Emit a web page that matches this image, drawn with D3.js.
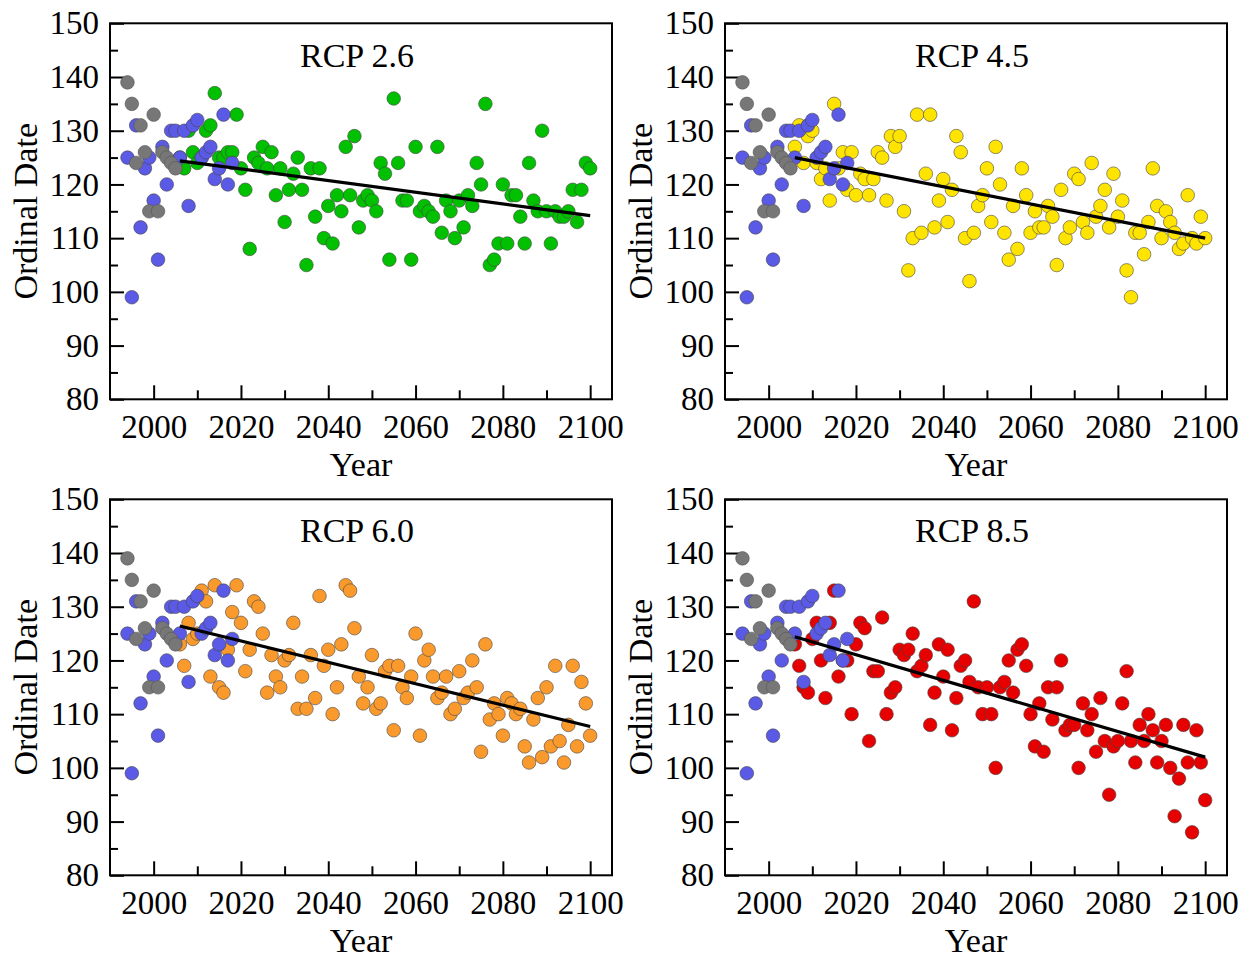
<!DOCTYPE html>
<html>
<head>
<meta charset="utf-8">
<script src="https://cdn.jsdelivr.net/npm/d3@7"></script>
<style>
  html, body { margin: 0; padding: 0; background: #fff; }
  svg { display: block; }
  text { font-family: "Liberation Serif", "Times New Roman", serif; fill: #000; }
</style>
</head>
<body>
<svg id="chart" width="1246" height="958"></svg>
<script>
// ---------------- DATA ----------------
const grayYears  = [1994, 1995, 1996, 1997, 1998, 1999, 2000, 2001, 2002, 2003, 2004, 2005];
const grayValues = [139, 135, 124, 131, 126, 115, 133, 115, 126, 125, 124, 123];

const blueYears  = [1994, 1995, 1996, 1997, 1998, 1999, 2000, 2001, 2002, 2003, 2004, 2005, 2006,
                    2007, 2008, 2009, 2010, 2011, 2012, 2013, 2014, 2015, 2016, 2017, 2018];
const blueValues = [125, 99, 131, 112, 123, 125, 117, 106, 127, 120, 130, 130, 125,
                    130, 116, 131, 132, 125, 126, 127, 121, 123, 133, 120, 124];

const scenarioYears = d3.range(2006, 2101);

const rcp26 = [125, 123, 130, 126, 124, 125, 130, 131, 137, 125, 125, 126, 126, 133, 123, 119, 108, 125, 124, 127,
               123, 126, 118, 123, 113, 119, 122, 125, 119, 105, 123, 114, 123, 110, 116, 109, 118, 115, 127, 118,
               129, 112, 117, 118, 117, 115, 124, 122, 106, 136, 124, 117, 117, 106, 127, 115, 116, 115, 114, 127,
               111, 117, 115, 110, 117, 112, 118, 116, 124, 120, 135, 105, 106, 109, 120, 109, 118, 118, 114, 109,
               124, 117, 115, 130, 115, 109, 115, 114, 114, 115, 119, 113, 119, 124, 123];

const rcp45 = [127, 131, 124, 129, 130, 124, 121, 123, 117, 135, 123, 126, 119, 126, 118, 122, 121, 118, 121, 126,
               125, 117, 129, 127, 129, 115, 104, 110, 133, 111, 122, 133, 112, 117, 121, 113, 119, 129, 126, 110,
               102, 111, 116, 118, 123, 113, 127, 120, 111, 106, 116, 108, 123, 118, 111, 115, 112, 112, 116, 114,
               105, 119, 110, 112, 122, 121, 113, 111, 124, 114, 116, 119, 112, 122, 114, 117, 104, 99, 111, 111,
               107, 113, 123, 116, 110, 115, 113, 111, 108, 109, 118, 110, 109, 114, 110];

const rcp60 = [123, 119, 127, 124, 125, 133, 131, 117, 134, 115, 114, 122, 129, 134, 127, 118, 122, 131, 130, 125,
               114, 121, 117, 115, 120, 121, 127, 111, 117, 111, 121, 113, 132, 119, 122, 110, 115, 123, 134, 133,
               126, 117, 112, 115, 121, 111, 112, 118, 119, 107, 119, 115, 113, 117, 125, 106, 120, 122, 117, 113,
               114, 117, 110, 111, 118, 113, 114, 120, 115, 103, 123, 109, 112, 110, 106, 113, 112, 110, 111, 104,
               101, 109, 113, 102, 115, 104, 119, 105, 101, 108, 119, 104, 116, 112, 106];

const rcp85 = [123, 119, 115, 114, 124, 127, 120, 113, 127, 133, 117, 120, 120, 110, 123, 127, 126, 105, 118, 118,
               128, 110, 114, 115, 122, 121, 122, 125, 118, 119, 121, 108, 114, 123, 117, 122, 107, 113, 119, 120,
               116, 131, 115, 110, 115, 110, 100, 115, 116, 120, 114, 122, 123, 119, 110, 104, 112, 103, 115, 109,
               115, 120, 107, 108, 108, 100, 112, 107, 110, 103, 113, 105, 95, 104, 105, 112, 118, 105, 101, 108,
               105, 110, 107, 101, 105, 108, 100, 91, 98, 108, 101, 88, 107, 101, 94];

const trendYears = [2006, 2100];
const trend26 = [124.4, 114.2];
const trend45 = [125.0, 110.0];
const trend60 = [126.4, 107.7];
const trend85 = [124.4, 102.0];

const panelTitles = ["RCP 2.6", "RCP 4.5", "RCP 6.0", "RCP 8.5"];
const xMajorTicks = [2000, 2020, 2040, 2060, 2080, 2100];
const xMinorTicks = [2010, 2030, 2050, 2070, 2090];
const yMajorTicks = [80, 90, 100, 110, 120, 130, 140, 150];
const yMinorTicks = [85, 95, 105, 115, 125, 135, 145];

// ---------------- STYLE / LAYOUT ----------------
const colors = { gray: "#777777", blue: "#5a5ae6", s: ["#00c000", "#ffe400", "#fb9a2c", "#e60000"] };
const panels = [
  { title: panelTitles[0], values: rcp26, trend: trend26, color: colors.s[0], ox: 0,   oy: 0 },
  { title: panelTitles[1], values: rcp45, trend: trend45, color: colors.s[1], ox: 615, oy: 0 },
  { title: panelTitles[2], values: rcp60, trend: trend60, color: colors.s[2], ox: 0,   oy: 476 },
  { title: panelTitles[3], values: rcp85, trend: trend85, color: colors.s[3], ox: 615, oy: 476 }
];

const svg = d3.select("#chart");
const FS = 33;
const R = 6.8;

panels.forEach((p, pi) => {
  const left = 110 + p.ox, right = 612 + p.ox, top = 23.3 + p.oy, bottom = 399.3 + p.oy;
  const x = d3.scaleLinear().domain([1990, 2105]).range([left, right]);
  const y = d3.scaleLinear().domain([80, 150]).range([bottom, top]);
  const g = svg.append("g");

  // axes (inward ticks)
  const xMaj = g.append("g").attr("transform", `translate(0,${bottom})`)
    .call(d3.axisBottom(x).tickValues(xMajorTicks).tickFormat(d3.format("d"))
      .tickSizeInner(-14).tickSizeOuter(0).tickPadding(15.5));
  const xMin = g.append("g").attr("transform", `translate(0,${bottom})`)
    .call(d3.axisBottom(x).tickValues(xMinorTicks).tickFormat("")
      .tickSizeInner(-9).tickSizeOuter(0));
  const yMaj = g.append("g").attr("transform", `translate(${left},0)`)
    .call(d3.axisLeft(y).tickValues(yMajorTicks).tickFormat(d3.format("d"))
      .tickSizeInner(-14).tickSizeOuter(0).tickPadding(11));
  const yMin = g.append("g").attr("transform", `translate(${left},0)`)
    .call(d3.axisLeft(y).tickValues(yMinorTicks).tickFormat("")
      .tickSizeInner(-8).tickSizeOuter(0));
  [xMaj, xMin, yMaj, yMin].forEach(a => {
    a.select(".domain").remove();
    a.selectAll(".tick line").attr("stroke", "#000").attr("stroke-width", 2);
    a.selectAll(".tick text").attr("font-size", FS).attr("font-family", '"Liberation Serif", "Times New Roman", serif');
  });

  // scenario points
  g.append("g").selectAll("circle")
    .data(scenarioYears.map((yr, i) => [yr, p.values[i]]))
    .join("circle")
    .attr("cx", d => x(d[0])).attr("cy", d => y(d[1])).attr("r", R)
    .attr("fill", p.color).attr("stroke", "#444").attr("stroke-width", 0.6);

  // blue points
  g.append("g").selectAll("circle")
    .data(blueYears.map((yr, i) => [yr, blueValues[i]]))
    .join("circle")
    .attr("cx", d => x(d[0])).attr("cy", d => y(d[1])).attr("r", R)
    .attr("fill", colors.blue).attr("stroke", "#444").attr("stroke-width", 0.6);

  // gray points
  g.append("g").selectAll("circle")
    .data(grayYears.map((yr, i) => [yr, grayValues[i]]))
    .join("circle")
    .attr("cx", d => x(d[0])).attr("cy", d => y(d[1])).attr("r", R)
    .attr("fill", colors.gray).attr("stroke", "#555").attr("stroke-width", 0.6);

  // trend line
  g.append("path")
    .datum(trendYears.map((yr, i) => [yr, p.trend[i]]))
    .attr("d", d3.line().x(d => x(d[0])).y(d => y(d[1])))
    .attr("stroke", "#000").attr("stroke-width", 3.2).attr("fill", "none");

  // frame
  g.append("rect").attr("x", left).attr("y", top)
    .attr("width", right - left).attr("height", bottom - top)
    .attr("fill", "none").attr("stroke", "#000").attr("stroke-width", 2);

  // title
  g.append("text").attr("x", 357 + p.ox).attr("y", (p.oy === 0 ? 67 : 542))
    .attr("text-anchor", "middle").attr("font-size", 34).text(p.title);

  // axis titles
  g.append("text").attr("x", (left + right) / 2).attr("y", 476 + p.oy)
    .attr("text-anchor", "middle").attr("font-size", 34).text("Year");
  g.append("text")
    .attr("transform", `translate(${37 + p.ox},${(top + bottom) / 2}) rotate(-90)`)
    .attr("text-anchor", "middle").attr("font-size", 34).text("Ordinal Date");
});
</script>
</body>
</html>
